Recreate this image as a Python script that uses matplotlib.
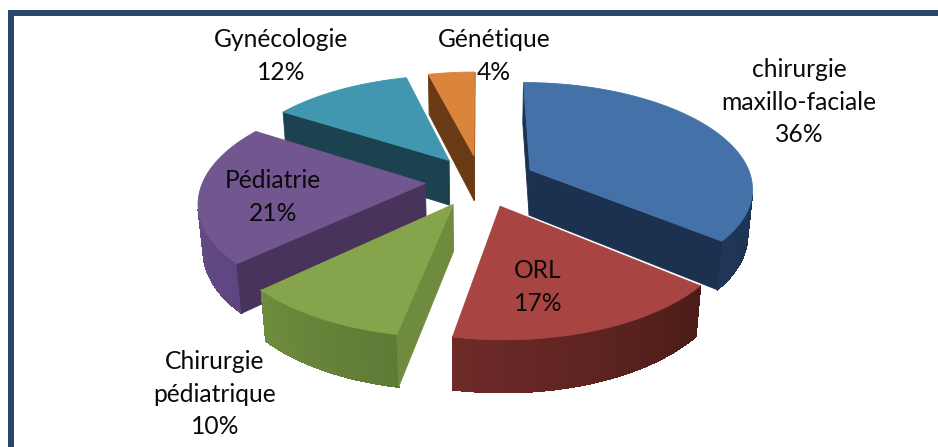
import numpy as np
import matplotlib
matplotlib.use('Agg')
import matplotlib.pyplot as plt
from matplotlib.colors import to_rgb

categories = ['chirurgie\nmaxillo-faciale', 'ORL', 'Chirurgie\npédiatrique',
              'Pédiatrie', 'Gynécologie', 'Génétique']
values = [36, 17, 10, 21, 12, 4]

top_colors = ['#4472A8', '#A84441', '#86A44C', '#71568F', '#4197B0', '#DA843C']
face_colors = ['#1C3150', '#581F1B', '#6F8B3E', '#48335A', '#1C4250', '#6A3A15']
wall_start = ['#1A2D4B', '#4C1C18', '#5F7A35', '#5E4680', '#1C4250', '#6A3A15']
wall_end = ['#1F3656', '#6E2B28', '#6E8C3E', '#6C5290', '#1C4250', '#6A3A15']
label_pos = [(799, 102), (538, 287), (215, 394), (273, 197), (281, 56), (494, 56)]

# camera fitted to the picture: centre, radius, tilt, height, perspective, explosion
CX, CY, R, B, D, K, M, EXPLODE = 480.69, 180.87, 222.2, 104.12, 46.53, 0.1549, 0.0181, 0.2492
FRAME = '#28466A'


def project(x, y, z):
    d = 1 + K * y + M * z
    return np.column_stack([CX + R * x / d, CY - (B * y - D * z) / d])


def shoelace(p):
    q = np.roll(p, -1, axis=0)
    return np.sum(p[:, 0] * q[:, 1] - q[:, 0] * p[:, 1])


fig = plt.figure(figsize=(9.38, 4.47), dpi=100)
ax = fig.add_axes([0, 0, 1, 1])
ax.set_xlim(0, 938)
ax.set_ylim(447, 0)
ax.axis('off')

edges = np.cumsum([0] + values) / sum(values) * 2 * np.pi


def draw(poly, color, zorder, smooth=True):
    ax.fill(poly[:, 0], poly[:, 1], color=color, lw=0.6, zorder=zorder, antialiased=smooth)


for order, i in enumerate([4, 5, 0, 3, 1, 2]):
    a0, a1 = edges[i], edges[i + 1]
    mid = (a0 + a1) / 2
    ox, oy = EXPLODE * np.sin(mid), EXPLODE * np.cos(mid)
    t = np.linspace(a0, a1, max(int((a1 - a0) * 60), 8))
    ax_x, ax_y = ox + np.sin(t), oy + np.cos(t)
    top = project(ax_x, ax_y, 0 * t)
    bot = project(ax_x, ax_y, 1 + 0 * t)
    apex_top = project(np.array([ox]), np.array([oy]), np.array([0.0]))
    apex_bot = project(np.array([ox]), np.array([oy]), np.array([1.0]))
    z = 10 * order + 1
    c0, c1 = np.array(to_rgb(wall_start[i])), np.array(to_rgb(wall_end[i]))
    for j in range(len(t) - 1):
        quad = np.vstack([top[j], top[j + 1], bot[j + 1], bot[j]])
        if shoelace(quad) < 0:
            f = j / (len(t) - 2)
            draw(quad, tuple(c0 + (c1 - c0) * f), z, smooth=False)
    start_face = np.vstack([apex_top, top[0], bot[0], apex_bot])
    end_face = np.vstack([top[-1], apex_top, apex_bot, bot[-1]])
    for face in (start_face, end_face):
        if shoelace(face) < 0:
            draw(face, face_colors[i], z + 1)
    draw(np.vstack([apex_top, top]), top_colors[i], z + 2)

for name, v, (x, y) in zip(categories, values, label_pos):
    ax.text(x, y, f'{name}\n{v}%', ha='center', va='center', fontsize=17.7,
            family='Lato', color='#0A0A0A', linespacing=1.48, zorder=100)

ax.fill([8, 14, 14, 8], [10, 10, 447, 447], color=FRAME, lw=0, zorder=200)
ax.fill([8, 938, 938, 8], [10, 10, 16, 16], color=FRAME, lw=0, zorder=200)
fig.savefig('out.png', dpi=100)
